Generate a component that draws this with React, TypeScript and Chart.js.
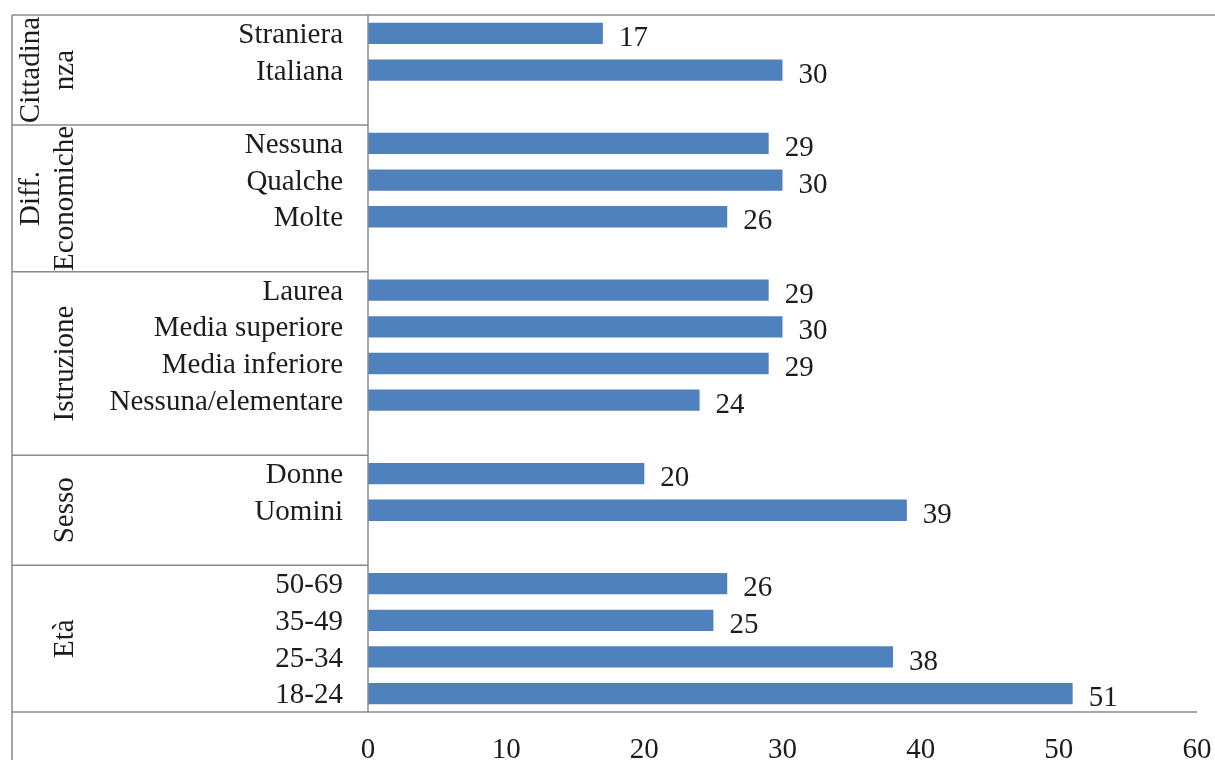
import React, { useEffect, useRef } from "react";
import { Chart, registerables } from "chart.js";

Chart.register(...registerables);

const categories: string[] = [
  "Straniera", "Italiana", "",
  "Nessuna", "Qualche", "Molte", "",
  "Laurea", "Media superiore", "Media inferiore", "Nessuna/elementare", "",
  "Donne", "Uomini", "",
  "50-69", "35-49", "25-34", "18-24",
];

const values: (number | null)[] = [
  17, 30, null,
  29, 30, 26, null,
  29, 30, 29, 24, null,
  20, 39, null,
  26, 25, 38, 51,
];

const groupNames: string[][] = [
  ["Cittadina", "nza"],
  ["Diff.", "Economiche"],
  ["Istruzione"],
  ["Sesso"],
  ["Età"],
];
const groupSizes: number[] = [3, 4, 5, 3, 4];

const xTicks: number[] = [0, 10, 20, 30, 40, 50, 60];

const FONT = "'Liberation Serif', 'Times New Roman', serif";
const TEXT = "#1c1c1c";
const LINE = "#8a8a8a";
const BAR = "#4F81BD";

const framePlugin = {
  id: "frame",
  afterDraw(chart: any) {
    const { ctx, chartArea, scales } = chart;
    const y = scales.y;
    const leftX = 12;
    ctx.save();
    ctx.strokeStyle = LINE;
    ctx.lineWidth = 1.5;
    ctx.beginPath();
    // top line
    ctx.moveTo(leftX, chartArea.top);
    ctx.lineTo(chart.width, chartArea.top);
    // bottom axis line
    ctx.moveTo(leftX, chartArea.bottom);
    ctx.lineTo(chartArea.right, chartArea.bottom);
    // left border
    ctx.moveTo(leftX, chartArea.top);
    ctx.lineTo(leftX, chart.height);
    // y axis line
    ctx.moveTo(chartArea.left, chartArea.top);
    ctx.lineTo(chartArea.left, chartArea.bottom);
    // group separators
    let idx = 0;
    const bounds: number[] = [chartArea.top];
    groupSizes.forEach((n, gi) => {
      idx += n;
      if (gi < groupSizes.length - 1) {
        const b = (y.getPixelForValue(idx - 1) + y.getPixelForValue(idx)) / 2;
        bounds.push(b);
        ctx.moveTo(leftX, b);
        ctx.lineTo(chartArea.left, b);
      }
    });
    bounds.push(chartArea.bottom);
    ctx.stroke();

    // group labels
    ctx.fillStyle = TEXT;
    ctx.font = `29px ${FONT}`;
    ctx.textAlign = "center";
    ctx.textBaseline = "middle";
    groupNames.forEach((lines, gi) => {
      const yc = (bounds[gi] + bounds[gi + 1]) / 2;
      lines.forEach((t, li) => {
        const x = 65 - (lines.length - 1 - li) * 34;
        ctx.save();
        ctx.translate(x, yc);
        ctx.rotate(-Math.PI / 2);
        ctx.fillText(t, 0, 0);
        ctx.restore();
      });
    });

    // data labels
    const meta = chart.getDatasetMeta(0);
    ctx.textAlign = "left";
    meta.data.forEach((bar: any, i: number) => {
      const v = values[i];
      if (v === null || v === undefined) return;
      ctx.fillText(String(v), bar.x + 16, bar.y + 5);
    });
    ctx.restore();
  },
};

export default function App() {
  const ref = useRef<HTMLCanvasElement | null>(null);
  useEffect(() => {
    if (!ref.current) return;
    const chart = new Chart(ref.current, {
      type: "bar",
      data: {
        labels: categories,
        datasets: [
          {
            data: values as any,
            backgroundColor: BAR,
            borderWidth: 0,
            barPercentage: 0.58,
            categoryPercentage: 1,
          },
        ],
      },
      options: {
        indexAxis: "y",
        responsive: false,
        animation: false,
        devicePixelRatio: 1,
        layout: { padding: { top: 15, right: 18, left: 0, bottom: 0 } },
        plugins: {
          legend: { display: false },
          tooltip: { enabled: false },
        },
        scales: {
          x: {
            min: 0,
            max: 60,
            afterBuildTicks: (scale: any) => {
              scale.ticks = xTicks.map((v) => ({ value: v }));
            },
            afterFit: (scale: any) => {
              scale.height = 48;
              scale.paddingLeft = 0;
              scale.paddingRight = 0;
              scale.paddingTop = 0;
              scale.paddingBottom = 0;
            },
            grid: { display: false, drawTicks: false },
            border: { display: false },
            ticks: {
              padding: 21,
              color: TEXT,
              font: { family: FONT, size: 29 },
              maxRotation: 0,
            },
          },
          y: {
            afterFit: (scale: any) => {
              scale.width = 368;
              scale.paddingLeft = 0;
              scale.paddingRight = 0;
              scale.paddingTop = 0;
              scale.paddingBottom = 0;
            },
            grid: { display: false, drawTicks: false },
            border: { display: false },
            ticks: {
              padding: 25,
              labelOffset: 2,
              color: TEXT,
              font: { family: FONT, size: 29 },
              autoSkip: false,
            },
          },
        },
      },
      plugins: [framePlugin],
    });
    return () => chart.destroy();
  }, []);
  return (
    <div style={{ position: "absolute", left: 0, top: 0, width: 1215, height: 760, background: "#fff" }}>
      <canvas ref={ref} width={1215} height={760} style={{ display: "block" }} />
    </div>
  );
}
